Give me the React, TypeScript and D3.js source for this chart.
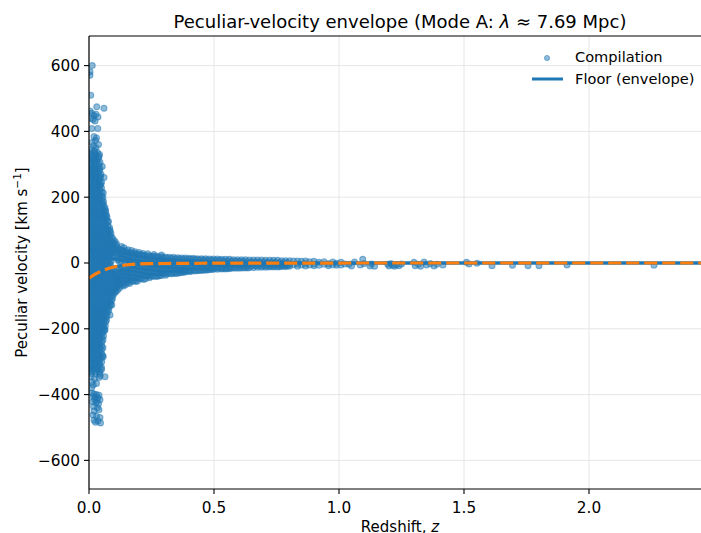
import React from 'react';
import * as d3 from 'd3';

// ---- axes ----
const xTicks = [0, 0.5, 1.0, 1.5, 2.0];
const yTicks = [-600, -400, -200, 0, 200, 400, 600];
const xDomain: [number, number] = [0, 2.448];
const yDomain: [number, number] = [-687, 690];

// ---- scatter data (redshift z, peculiar velocity km/s) ----
// dense low-z spike: [velocity, redshifts at that velocity]
const spikeRows: [number, number[]][] = [
  [336, [0.004, 0.02, 0.034]],
  [330, [0.012, 0.028, 0.042]],
  [324, [0.01, 0.026, 0.04]],
  [318, [0.006, 0.022, 0.038]],
  [312, [0.003, 0.018, 0.032]],
  [306, [0.012, 0.028, 0.044]],
  [300, [0.008, 0.024, 0.04]],
  [294, [0.008, 0.022, 0.036]],
  [288, [0.004, 0.016, 0.03, 0.044]],
  [282, [0.012, 0.028, 0.042]],
  [276, [0.01, 0.024, 0.038]],
  [270, [0.006, 0.02, 0.036, 0.048]],
  [264, [0.004, 0.018, 0.032, 0.046]],
  [258, [0.012, 0.028, 0.044]],
  [252, [0.01, 0.026, 0.04]],
  [246, [0.006, 0.022, 0.038, 0.05]],
  [240, [0.003, 0.019, 0.035, 0.048]],
  [234, [0.011, 0.027, 0.043]],
  [228, [0.003, 0.019, 0.035, 0.05]],
  [222, [0.011, 0.027, 0.043]],
  [216, [0.003, 0.019, 0.035, 0.051]],
  [210, [0.011, 0.027, 0.043]],
  [204, [0.003, 0.019, 0.035, 0.051]],
  [198, [0.011, 0.027, 0.043, 0.056]],
  [192, [0.003, 0.019, 0.035, 0.051]],
  [186, [0.011, 0.027, 0.043, 0.058]],
  [180, [0.003, 0.019, 0.035, 0.051]],
  [174, [0.011, 0.027, 0.043, 0.059]],
  [168, [0.003, 0.019, 0.035, 0.051, 0.064]],
  [162, [0.011, 0.027, 0.043, 0.059]],
  [156, [0.003, 0.019, 0.035, 0.051, 0.066]],
  [150, [0.011, 0.027, 0.043, 0.059]],
  [144, [0.003, 0.019, 0.035, 0.051, 0.067]],
  [138, [0.011, 0.027, 0.043, 0.059, 0.072]],
  [132, [0.003, 0.019, 0.035, 0.051, 0.067]],
  [126, [0.011, 0.027, 0.043, 0.059, 0.074]],
  [120, [0.003, 0.019, 0.035, 0.051, 0.067]],
  [114, [0.011, 0.027, 0.043, 0.059, 0.075]],
  [108, [0.003, 0.019, 0.035, 0.051, 0.067, 0.082]],
  [102, [0.011, 0.027, 0.043, 0.059, 0.075]],
  [96, [0.003, 0.019, 0.035, 0.051, 0.067, 0.083]],
  [90, [0.011, 0.027, 0.043, 0.059, 0.075, 0.088]],
  [84, [0.003, 0.019, 0.035, 0.051, 0.067, 0.083]],
  [78, [0.011, 0.027, 0.043, 0.059, 0.075, 0.091]],
  [72, [0.003, 0.019, 0.035, 0.051, 0.067, 0.083, 0.097]],
  [66, [0.011, 0.027, 0.043, 0.059, 0.075, 0.091]],
  [60, [0.003, 0.019, 0.035, 0.051, 0.067, 0.083, 0.099]],
  [54, [0.011, 0.027, 0.043, 0.059, 0.075, 0.091, 0.106]],
  [48, [0.003, 0.019, 0.035, 0.051, 0.067, 0.083, 0.099]],
  [42, [0.011, 0.027, 0.043, 0.059, 0.075, 0.091, 0.106]],
  [36, [0.003, 0.019, 0.035, 0.051, 0.067, 0.083, 0.099]],
  [30, [0.011, 0.027, 0.043, 0.059, 0.075, 0.091, 0.106]],
  [24, [0.003, 0.019, 0.035, 0.051, 0.067, 0.083, 0.099]],
  [18, [0.011, 0.027, 0.043, 0.059, 0.075, 0.091]],
  [12, [0.003, 0.019, 0.035, 0.051, 0.067, 0.083]],
  [6, [0.011, 0.027, 0.043, 0.059, 0.075, 0.088]],
  [0, [0.003, 0.019, 0.035, 0.051, 0.067, 0.082]],
  [-6, [0.011, 0.027, 0.043, 0.059, 0.075, 0.086]],
  [-12, [0.003, 0.019, 0.035, 0.051, 0.067, 0.083]],
  [-18, [0.011, 0.027, 0.043, 0.059, 0.075, 0.091]],
  [-24, [0.003, 0.019, 0.035, 0.051, 0.067, 0.083, 0.099]],
  [-30, [0.011, 0.027, 0.043, 0.059, 0.075, 0.091, 0.106]],
  [-36, [0.003, 0.019, 0.035, 0.051, 0.067, 0.083, 0.099]],
  [-42, [0.011, 0.027, 0.043, 0.059, 0.075, 0.091, 0.107]],
  [-48, [0.003, 0.019, 0.035, 0.051, 0.067, 0.083, 0.099, 0.112]],
  [-54, [0.011, 0.027, 0.043, 0.059, 0.075, 0.091, 0.107]],
  [-60, [0.003, 0.019, 0.035, 0.051, 0.067, 0.083, 0.099, 0.115]],
  [-66, [0.011, 0.027, 0.043, 0.059, 0.075, 0.091, 0.107]],
  [-72, [0.003, 0.019, 0.035, 0.051, 0.067, 0.083, 0.099, 0.112]],
  [-78, [0.011, 0.027, 0.043, 0.059, 0.075, 0.091, 0.106]],
  [-84, [0.003, 0.019, 0.035, 0.051, 0.067, 0.083, 0.099]],
  [-90, [0.011, 0.027, 0.043, 0.059, 0.075, 0.091, 0.103]],
  [-96, [0.003, 0.019, 0.035, 0.051, 0.067, 0.083, 0.098]],
  [-102, [0.011, 0.027, 0.043, 0.059, 0.075, 0.091]],
  [-108, [0.003, 0.019, 0.035, 0.051, 0.067, 0.083, 0.094]],
  [-114, [0.011, 0.027, 0.043, 0.059, 0.075, 0.09]],
  [-120, [0.003, 0.019, 0.035, 0.051, 0.067, 0.083]],
  [-126, [0.011, 0.027, 0.043, 0.059, 0.075, 0.087]],
  [-132, [0.003, 0.019, 0.035, 0.051, 0.067, 0.082]],
  [-138, [0.011, 0.027, 0.043, 0.059, 0.075]],
  [-144, [0.003, 0.019, 0.035, 0.051, 0.067, 0.079]],
  [-150, [0.011, 0.027, 0.043, 0.059, 0.074]],
  [-156, [0.003, 0.019, 0.035, 0.051, 0.067]],
  [-162, [0.011, 0.027, 0.043, 0.059, 0.072]],
  [-168, [0.003, 0.019, 0.035, 0.051, 0.066]],
  [-174, [0.011, 0.027, 0.043, 0.059, 0.07]],
  [-180, [0.003, 0.019, 0.035, 0.051, 0.066]],
  [-186, [0.011, 0.027, 0.043, 0.059]],
  [-192, [0.003, 0.019, 0.035, 0.051, 0.065]],
  [-198, [0.011, 0.027, 0.043, 0.059]],
  [-204, [0.003, 0.019, 0.035, 0.051, 0.062]],
  [-210, [0.011, 0.027, 0.043, 0.057]],
  [-216, [0.003, 0.019, 0.035, 0.051]],
  [-222, [0.011, 0.027, 0.043, 0.058]],
  [-228, [0.003, 0.019, 0.035, 0.051]],
  [-234, [0.011, 0.027, 0.043, 0.056]],
  [-240, [0.003, 0.019, 0.035, 0.051]],
  [-246, [0.011, 0.027, 0.043]],
  [-252, [0.003, 0.019, 0.035, 0.051]],
  [-258, [0.011, 0.027, 0.043, 0.056]],
  [-264, [0.003, 0.019, 0.035, 0.05]],
  [-270, [0.011, 0.027, 0.043]],
  [-276, [0.003, 0.019, 0.035, 0.051]],
  [-282, [0.011, 0.027, 0.043, 0.055]],
  [-288, [0.003, 0.019, 0.035, 0.05]],
  [-294, [0.011, 0.027, 0.043]],
  [-300, [0.003, 0.019, 0.035, 0.051]],
  [-306, [0.011, 0.027, 0.043]],
  [-312, [0.01, 0.026, 0.042]],
  [-318, [0.003, 0.019, 0.035, 0.05]],
  [-324, [0.004, 0.018, 0.034, 0.05]],
  [-330, [0.012, 0.028, 0.044]],
  [-336, [0.01, 0.026, 0.042]],
];

// band at intermediate redshift: [redshift, velocities at that redshift]
const bandCols: [number, number[]][] = [
  [0.114, [46, 34, 22, 10, -22, -34, -46, -58, -70, -82]],
  [0.122, [40, 28, 16, 4, -16, -28, -40, -52, -64, -76]],
  [0.13, [40, 28, 16, 4, -20, -32, -44, -56, -68]],
  [0.138, [36, 24, 12, -14, -26, -38, -50, -62, -70]],
  [0.146, [36, 24, 12, 0, -18, -30, -42, -54, -66]],
  [0.154, [32, 20, 8, -12, -24, -36, -48, -60]],
  [0.162, [32, 20, 8, -4, -16, -28, -40, -52, -62]],
  [0.17, [28, 16, 4, -8, -20, -32, -44, -56]],
  [0.178, [30, 18, 6, -6, -18, -30, -42, -54]],
  [0.186, [26, 14, 2, -10, -22, -34, -46, -56]],
  [0.194, [27, 15, 3, -9, -21, -33, -45, -55]],
  [0.202, [24, 12, 0, -12, -24, -36, -48]],
  [0.21, [25, 13, 1, -11, -23, -35, -47]],
  [0.218, [22, 10, -2, -14, -26, -38, -50]],
  [0.226, [23, 11, -1, -13, -25, -37, -48]],
  [0.234, [20, 8, -4, -16, -28, -40]],
  [0.242, [22, 10, -2, -14, -26, -38, -45]],
  [0.25, [19, 7, -5, -17, -29, -41]],
  [0.258, [21, 9, -3, -15, -27, -39]],
  [0.266, [18, 6, -6, -18, -30, -41]],
  [0.274, [20, 8, -4, -16, -28, -40]],
  [0.282, [17, 5, -7, -19, -31, -39]],
  [0.29, [19, 7, -5, -17, -29, -38]],
  [0.298, [16, 4, -8, -20, -32]],
  [0.306, [18, 6, -6, -18, -30, -37]],
  [0.314, [15, 3, -9, -21, -33]],
  [0.322, [17, 5, -7, -19, -31]],
  [0.33, [14, 2, -10, -22, -33]],
  [0.338, [17, 5, -7, -19, -31]],
  [0.346, [13, 1, -11, -23, -32]],
  [0.354, [16, 4, -8, -20, -31]],
  [0.362, [13, 1, -11, -23, -30]],
  [0.37, [15, 3, -9, -21, -29]],
  [0.378, [12, 0, -12, -24, -28]],
  [0.386, [15, 3, -9, -21, -27]],
  [0.394, [12, 0, -12, -24]],
  [0.402, [14, 2, -10, -22, -26]],
  [0.41, [11, -1, -13, -25]],
  [0.418, [14, 2, -10, -22]],
  [0.426, [11, -1, -13, -24]],
  [0.434, [13, 1, -11, -23]],
  [0.442, [10, -2, -14, -23]],
  [0.45, [13, 1, -11, -22]],
  [0.458, [10, -2, -14, -22]],
  [0.466, [13, 1, -11, -21]],
  [0.474, [9, -3, -15, -21]],
  [0.482, [12, 0, -12, -20]],
  [0.49, [9, -3, -15, -20]],
  [0.498, [12, 0, -12, -19]],
  [0.506, [8, -4, -16]],
  [0.514, [12, 0, -12, -19]],
  [0.522, [8, -4, -16]],
  [0.53, [11, -1, -13, -18]],
  [0.538, [7, -5, -17]],
  [0.546, [11, -1, -13, -18]],
  [0.554, [7, -5, -17]],
  [0.562, [11, -1, -13, -17]],
  [0.57, [6, -6, -16]],
  [0.578, [10, -2, -14]],
  [0.586, [6, -6, -16]],
  [0.594, [10, -2, -14]],
  [0.602, [5, -7, -16]],
  [0.61, [10, -2, -14]],
  [0.618, [5, -7, -15]],
  [0.626, [10, -2, -14]],
  [0.634, [4, -8, -15]],
  [0.642, [9, -3, -14]],
  [0.65, [4, -8]],
  [0.658, [9, -3, -14]],
  [0.666, [4, -8]],
  [0.674, [9, -3, -13]],
  [0.682, [3, -9]],
  [0.69, [9, -3, -13]],
  [0.698, [3, -9]],
  [0.706, [8, -4, -13]],
  [0.714, [2, -10]],
  [0.722, [8, -4, -12]],
  [0.73, [2, -10]],
  [0.738, [8, -4, -12]],
  [0.746, [2, -10]],
  [0.754, [8, -4, -12]],
  [0.762, [1, -11]],
  [0.77, [7, -5, -11]],
  [0.778, [1, -9]],
  [0.786, [7, -5, -11]],
  [0.794, [1, -9]],
  [0.802, [7, -4, -10]],
  [0.818, [6, -5]],
  [0.834, [6, -3, -10]],
  [0.85, [5, -6]],
  [0.866, [6, -2, -9]],
  [0.882, [4, -6]],
  [0.9, [5, -3, -8]],
  [0.92, [2, -7]],
  [0.94, [4, -4]],
  [0.958, [-2, -8]],
  [0.975, [3, -5]],
  [0.99, [-1, -7]],
  [1.008, [2, -6]],
  [1.024, [-3]],
];

// sparse high positive velocities at very low z
const upperOutliers: [number, number][] = [
  [0.013, 600], [0.004, 581], [0.004, 571], [0.007, 510], [0.031, 475], [0.06, 470],
  [0.004, 462], [0.012, 455], [0.02, 448], [0.028, 452], [0.036, 444], [0.008, 440],
  [0.016, 436], [0.024, 432], [0.011, 409], [0.035, 409], [0.03, 380], [0.02, 384],
  [0.026, 372], [0.012, 366], [0.018, 356], [0.028, 350], [0.01, 345], [0.022, 342],
  [0.038, 360],
];

// sparse large negative velocities at very low z
const lowerOutliers: [number, number][] = [
  [0.008, -345], [0.022, -352], [0.04, -348], [0.064, -346], [0.012, -362], [0.03, -366],
  [0.017, -371], [0.01, -380], [0.045, -342],
  [0.012, -395], [0.02, -398], [0.03, -400], [0.016, -405], [0.026, -408], [0.036, -410],
  [0.04, -402], [0.022, -414], [0.032, -418], [0.044, -416], [0.014, -422], [0.028, -425],
  [0.038, -428], [0.018, -436], [0.034, -440], [0.02, -450], [0.04, -446], [0.016, -462],
  [0.03, -466], [0.044, -470], [0.02, -478], [0.036, -480], [0.046, -486], [0.026, -484],
];

// scattered points along the edges of the spike and band
const skirtPoints: [number, number][] = [
  [0.053, 293], [0.044, 237], [0.057, 213], [0.06, 260], [0.056, 180], [0.066, 160],
  [0.07, 146], [0.078, 126], [0.084, 100], [0.104, 65], [0.11, 58], [0.13, 50],
  [0.14, 46], [0.156, 40], [0.17, 38], [0.184, 34], [0.2, 32], [0.216, 29],
  [0.235, 28], [0.26, 26], [0.29, 24],
  [0.108, -87], [0.091, -128], [0.084, -158], [0.064, -204], [0.057, -285],
];

// sparse high-redshift tail
const tailPoints: [number, number][] = [
  [1.04, -4], [1.05, -9], [1.062, 3], [1.085, -6], [1.095, 11], [1.1, -2], [1.124, -9],
  [1.13, -3], [1.142, -10], [1.195, -4], [1.2, -9], [1.208, -2], [1.215, -7], [1.222, -10],
  [1.23, -5], [1.24, -8], [1.25, -3], [1.3, 2], [1.305, -8], [1.318, -4], [1.326, -10],
  [1.34, 3], [1.35, -6], [1.366, -2], [1.38, -9], [1.392, -4], [1.416, -6], [1.51, 2],
  [1.52, -3], [1.552, -1], [1.612, -8], [1.694, -7], [1.756, -8], [1.8, -8], [1.912, -6],
  [2.26, -7],
];

// floor (envelope) curve
const floorZ = [0, 0.01, 0.02, 0.03, 0.04, 0.06, 0.08, 0.1, 0.13, 0.16, 0.2, 0.25, 0.3, 0.4, 0.5, 0.7, 1.0, 1.5, 2.0, 2.448];
const floorV = [46, 41, 36, 32, 28, 22, 16, 12, 8, 5, 3, 2, 1.5, 1, 0.5, 0.2, 0.1, 0, 0, 0];

const FONT = '"DejaVu Sans", sans-serif';
const BLUE = '#1f77b4';
const ORANGE = '#ff7f0e';

export default function App() {
  const W = 701;
  const H = 533;
  const L = 89, R = 701, T = 36, B = 489;
  const x = d3.scaleLinear().domain(xDomain).range([L, R]);
  const y = d3.scaleLinear().domain(yDomain).range([B, T]);

  const points: [number, number][] = [];
  spikeRows.forEach(([v, zs]) => zs.forEach((z) => points.push([z, v])));
  bandCols.forEach(([z, vs]) => vs.forEach((v) => points.push([z, v])));
  upperOutliers.forEach((p) => points.push(p));
  lowerOutliers.forEach((p) => points.push(p));
  skirtPoints.forEach((p) => points.push(p));
  tailPoints.forEach((p) => points.push(p));

  const floorPts = floorZ.map((z, i) => [z, floorV[i]] as [number, number]);
  const upper = d3.line<[number, number]>().x((d) => x(d[0])).y((d) => y(d[1])).curve(d3.curveMonotoneX);
  const lower = d3.line<[number, number]>().x((d) => x(d[0])).y((d) => y(-d[1])).curve(d3.curveMonotoneX);

  const fsTick = 15.3;
  const fsLab = 15;
  const fsLeg = 14.6;

  return (
    <svg width={W} height={H} style={{ position: 'absolute', left: 0, top: 0, background: '#fff' }} fontFamily={FONT}>
      <defs>
        <clipPath id="plot">
          <rect x={L} y={T} width={R - L} height={B - T} />
        </clipPath>
      </defs>
      <rect x={0} y={0} width={W} height={H} fill="#fff" />
      {/* grid */}
      {xTicks.map((t) => (
        <line key={'gx' + t} x1={x(t)} x2={x(t)} y1={T} y2={B} stroke="#e6e6e6" strokeWidth={1} />
      ))}
      {yTicks.map((t) => (
        <line key={'gy' + t} x1={L} x2={R} y1={y(t)} y2={y(t)} stroke="#e6e6e6" strokeWidth={1} />
      ))}
      <g clipPath="url(#plot)">
        {points.map((p, i) => (
          <circle key={i} cx={x(p[0])} cy={y(p[1])} r={3} fill={BLUE} fillOpacity={0.5} stroke={BLUE} strokeOpacity={0.5} strokeWidth={1.1} />
        ))}
        <path d={upper(floorPts) || ''} fill="none" stroke={BLUE} strokeWidth={3} />
        <path d={lower(floorPts) || ''} fill="none" stroke={BLUE} strokeWidth={3} />
        <path d={lower(floorPts) || ''} fill="none" stroke={ORANGE} strokeWidth={3.2} strokeDasharray="13 5" />
      </g>
      {/* spines */}
      <line x1={L} x2={L} y1={T} y2={B} stroke="#000" strokeWidth={1.2} />
      <line x1={L} x2={R} y1={B} y2={B} stroke="#000" strokeWidth={1.2} />
      <line x1={L} x2={R} y1={T} y2={T} stroke="#000" strokeWidth={1.2} />
      {/* ticks */}
      {xTicks.map((t) => (
        <g key={'xt' + t}>
          <line x1={x(t)} x2={x(t)} y1={B} y2={B + 5} stroke="#000" strokeWidth={1.1} />
          <text x={x(t)} y={512.5} fontSize={fsTick} textAnchor="middle" fill="#000">{t.toFixed(1)}</text>
        </g>
      ))}
      {yTicks.map((t) => (
        <g key={'yt' + t}>
          <line x1={L - 5} x2={L} y1={y(t)} y2={y(t)} stroke="#000" strokeWidth={1.1} />
          <text x={80} y={y(t) + 5.5} fontSize={fsTick} textAnchor="end" fill="#000">{t < 0 ? '\u2212' + Math.abs(t) : String(t)}</text>
        </g>
      ))}
      {/* labels */}
      <text x={400} y={531.5} fontSize={fsLab} textAnchor="middle">
        Redshift, <tspan fontStyle="italic">z</tspan>
      </text>
      <text transform="translate(27,262.5) rotate(-90)" fontSize={fsLab} textAnchor="middle">
        Peculiar velocity [km s<tspan fontSize={fsLab * 0.7} dy={-6}>{'\u22121'}</tspan><tspan dy={6}>]</tspan>
      </text>
      <text x={400} y={28} fontSize={18} textAnchor="middle">
        Peculiar-velocity envelope (Mode A: <tspan fontStyle="italic">λ</tspan> ≈ 7.69 Mpc)
      </text>
      {/* legend */}
      <circle cx={547} cy={58} r={2.6} fill={BLUE} fillOpacity={0.5} stroke={BLUE} strokeOpacity={0.5} strokeWidth={1} />
      <text x={575} y={62} fontSize={fsLeg}>Compilation</text>
      <line x1={532} x2={563} y1={79} y2={79} stroke={BLUE} strokeWidth={3} />
      <text x={575} y={84} fontSize={fsLeg}>Floor (envelope)</text>
    </svg>
  );
}
